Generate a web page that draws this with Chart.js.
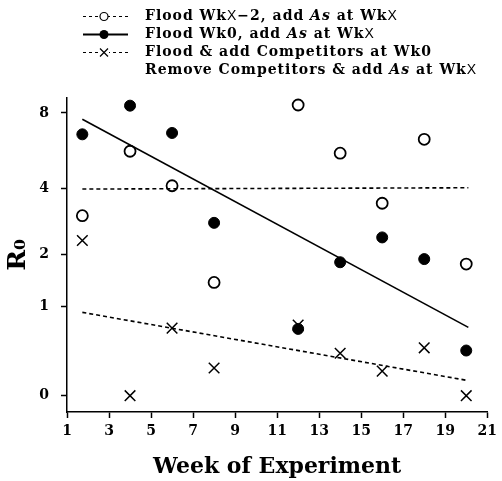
<!DOCTYPE html>
<html><head><meta charset="utf-8">
<script src="https://cdn.jsdelivr.net/npm/chart.js@4"></script>
<style>html,body{margin:0;padding:0;background:#fff}#wrap{width:502px;height:481px;position:relative}</style>
</head><body><div id="wrap"><canvas id="c" width="502" height="481"></canvas></div>
<script>
// ---- data ----
const weeks = [1.73, 4, 6, 8, 12, 14, 16, 18, 20];
const floodXm2 = [3.05, 5.68, 4.11, 1.41, 8.57, 5.58, 3.46, 6.33, 1.78];
const floodWk0 = [6.62, 8.52, 6.70, 2.83, 0.68, 1.82, 2.42, 1.89, 0.42];
const competitors = [2.34, 0, 0.69, 0.24, 0.73, 0.39, 0.21, 0.45, 0];
const trendWeeks = [1.73, 20.1];
const trendFloodXm2 = [3.98, 4.03];
const trendFloodWk0 = [7.57, 0.70];
const trendCompetitors = [0.91, 0.124];
const xTickValues = [1, 3, 5, 7, 9, 11, 13, 15, 17, 19, 21];
const yTickValues = [0, 1, 2, 4, 8];
const legendLines = [
  "Flood WkX\u22122, add As at WkX",
  "Flood Wk0, add As at WkX",
  "Flood & add Competitors at Wk0",
  "Remove Competitors & add As at WkX"
];
const xTitle = "Week of Experiment";
const yTitle = "R\u2080";

// ---- helpers ----
const T = v => Math.log(v + 1);
const pts = (xs, ys) => xs.map((x, i) => ({x: x, y: T(ys[i])}));
const SERIF = "'DejaVu Serif', serif";

const legendSymbols = ['open', 'filled', 'cross', null];
const legendPlugin = {
  id: 'customLegend',
  afterDraw(chart) {
    const ctx = chart.ctx;
    ctx.save();
    legendLines.forEach((line, i) => {
      const y = 16.5 + i * 18;
      const sym = legendSymbols[i];
      ctx.strokeStyle = '#000';
      ctx.fillStyle = '#000';
      if (sym) {
        ctx.lineWidth = sym === 'filled' ? 2 : 1;
        ctx.setLineDash(sym === 'filled' ? [] : [3, 3]);
        ctx.beginPath(); ctx.moveTo(83, y); ctx.lineTo(128, y); ctx.stroke();
        ctx.setLineDash([]);
        const cx = 104;
        if (sym === 'open') {
          ctx.fillStyle = '#fff';
          ctx.beginPath(); ctx.arc(cx, y, 4, 0, Math.PI * 2); ctx.fill();
          ctx.lineWidth = 1.2; ctx.stroke();
          ctx.fillStyle = '#000';
        } else if (sym === 'filled') {
          ctx.beginPath(); ctx.arc(cx, y, 4.5, 0, Math.PI * 2); ctx.fill();
        } else {
          ctx.fillStyle = '#fff';
          ctx.fillRect(cx - 5, y - 5, 10, 10);
          ctx.lineWidth = 1.2;
          ctx.beginPath();
          ctx.moveTo(cx - 4, y - 4); ctx.lineTo(cx + 4, y + 4);
          ctx.moveTo(cx - 4, y + 4); ctx.lineTo(cx + 4, y - 4);
          ctx.stroke();
          ctx.fillStyle = '#000';
        }
      }
      let x = 145;
      ctx.textBaseline = 'middle';
      ctx.textAlign = 'left';
      try { ctx.letterSpacing = '1px'; } catch (e) {}
      const parts = line.split(/(As|X)/);
      parts.forEach(p => {
        if (!p) return;
        if (p === 'As') ctx.font = "italic bold 14px " + SERIF;
        else if (p === 'X') ctx.font = "14px 'Liberation Sans', sans-serif";
        else ctx.font = "bold 14px " + SERIF;
        ctx.fillText(p, x, y);
        x += ctx.measureText(p).width;
      });
      try { ctx.letterSpacing = '0px'; } catch (e) {}
    });
    ctx.restore();
  }
};

const black = '#000';
new Chart(document.getElementById('c'), {
  type: 'scatter',
  data: {
    datasets: [
      {label: 'trend1', data: pts(trendWeeks, trendFloodXm2), showLine: true, borderColor: black, borderWidth: 1.6, borderDash: [4, 3], pointRadius: 0},
      {label: 'trend2', data: pts(trendWeeks, trendFloodWk0), showLine: true, borderColor: black, borderWidth: 1.6, pointRadius: 0},
      {label: 'trend3', data: pts(trendWeeks, trendCompetitors), showLine: true, borderColor: black, borderWidth: 1.6, borderDash: [4, 3], pointRadius: 0},
      {label: 'Flood WkX-2, add As at WkX', data: pts(weeks, floodXm2), showLine: false, pointStyle: 'circle', pointRadius: 5.5, pointBackgroundColor: '#fff', pointBorderColor: black, pointBorderWidth: 1.8},
      {label: 'Flood Wk0, add As at WkX', data: pts(weeks, floodWk0), showLine: false, pointStyle: 'circle', pointRadius: 5.5, pointBackgroundColor: black, pointBorderColor: black, pointBorderWidth: 1},
      {label: 'Flood & add Competitors at Wk0', data: pts(weeks, competitors), showLine: false, pointStyle: 'crossRot', pointRadius: 7.5, pointBorderColor: black, pointBorderWidth: 1.5}
    ]
  },
  options: {
    responsive: false, animation: false, devicePixelRatio: 1,
    layout: {padding: {top: 98, right: 10, left: 0, bottom: 0}},
    plugins: {legend: {display: false}, tooltip: {enabled: false}},
    scales: {
      x: {
        type: 'linear', min: 1, max: 21, bounds: 'data',
        afterBuildTicks: s => { s.ticks = xTickValues.map(v => ({value: v})); },
        afterFit: s => { s.height = 69; },
        grid: {drawOnChartArea: false, drawTicks: true, tickLength: 6, tickColor: black, tickWidth: 1.5},
        border: {display: true, color: black, width: 1.5},
        ticks: {color: black, padding: 5, autoSkip: false, maxRotation: 0, font: {family: SERIF, size: 14, weight: 'bold'}},
        title: {display: true, text: xTitle, color: black, padding: {top: 0, bottom: 1}, font: {family: SERIF, size: 22, weight: 'bold'}}
      },
      y: {
        type: 'linear', min: -0.127, max: 2.313, bounds: 'data',
        afterBuildTicks: s => { s.ticks = yTickValues.map(v => ({value: T(v)})); },
        afterFit: s => { s.width = 67; },
        grid: {drawOnChartArea: false, drawTicks: true, tickLength: 6, tickColor: black, tickWidth: 1.5},
        border: {display: true, color: black, width: 1.5},
        ticks: {color: black, padding: 12, autoSkip: false, font: {family: SERIF, size: 14, weight: 'bold'},
          callback: (v, i) => String(yTickValues[i])},
        title: {display: true, text: yTitle, color: black, padding: {top: 3, bottom: 0}, font: {family: SERIF, size: 25, weight: 'bold'}}
      }
    }
  },
  plugins: [legendPlugin]
});
</script>
</body></html>
